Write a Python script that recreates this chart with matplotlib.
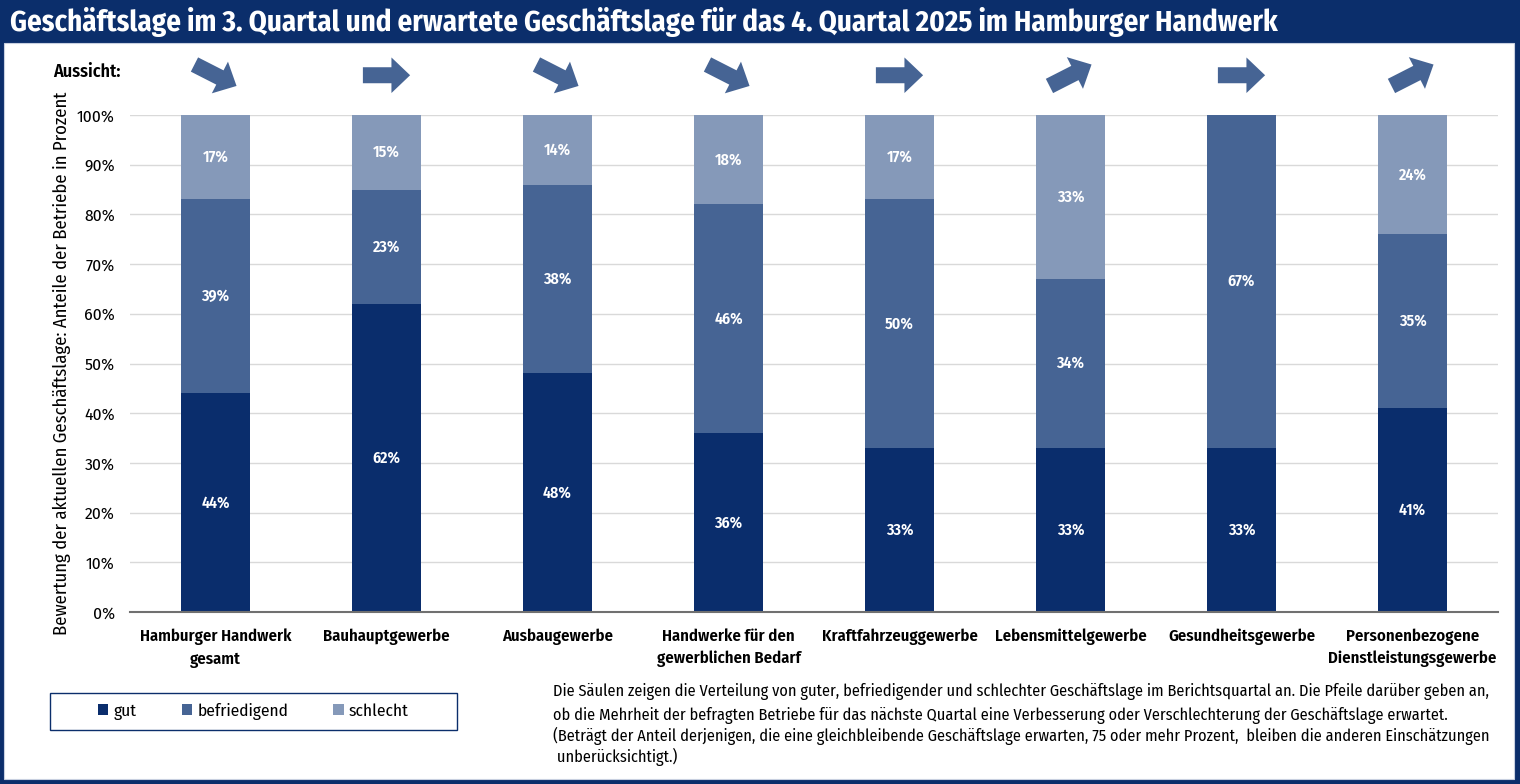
import matplotlib
matplotlib.use("Agg")
import matplotlib.pyplot as plt
import matplotlib.patches as mpatches
from matplotlib.transforms import offset_copy
from matplotlib import font_manager as fm
import numpy as np

installed = {f.name for f in fm.fontManager.ttflist}
prefs = ["Fira Sans Condensed", "Roboto Condensed", "PT Sans Narrow", "Encode Sans Condensed",
         "Asap Condensed", "Open Sans"]
fam = [p for p in prefs if p in installed][:1] + ["DejaVu Sans"]
plt.rcParams['font.family'] = fam

categories = ["Hamburger Handwerk\ngesamt", "Bauhauptgewerbe", "Ausbaugewerbe",
              "Handwerke für den\ngewerblichen Bedarf", "Kraftfahrzeuggewerbe",
              "Lebensmittelgewerbe", "Gesundheitsgewerbe",
              "Personenbezogene\nDienstleistungsgewerbe"]
gut = [44, 62, 48, 36, 33, 33, 33, 41]
befriedigend = [39, 23, 38, 46, 50, 34, 67, 35]
schlecht = [17, 15, 14, 18, 17, 33, 0, 24]
# Aussicht: -1 = Verschlechterung, 0 = gleichbleibend, 1 = Verbesserung
aussicht = [-1, 0, -1, -1, 0, 1, 0, 1]

title = "Geschäftslage im 3. Quartal und erwartete Geschäftslage für das 4. Quartal 2025 im Hamburger Handwerk"
ylabel = "Bewertung der aktuellen Geschäftslage: Anteile der Betriebe in Prozent"
note_lines = ["Die Säulen zeigen die Verteilung von guter, befriedigender und schlechter Geschäftslage im Berichtsquartal an. Die Pfeile darüber geben an,",
              "ob die Mehrheit der befragten Betriebe für das nächste Quartal eine Verbesserung oder Verschlechterung der Geschäftslage erwartet.",
              "(Beträgt der Anteil derjenigen, die eine gleichbleibende Geschäftslage erwarten, 75 oder mehr Prozent,  bleiben die anderen Einschätzungen",
              " unberücksichtigt.)"]

NAVY = "#0b2e6b"
C_GUT = "#0a2d6c"
C_BEF = "#466494"
C_SCH = "#8599b9"
C_ARROW = "#466494"

W, H = 1520, 784
fig = plt.figure(figsize=(W / 100, H / 100), dpi=100)
fig.patch.set_facecolor(NAVY)
renderer = fig.canvas.get_renderer()


def fit_width(t, target_px):
    w = t.get_window_extent(renderer).width
    t.set_fontsize(t.get_fontsize() * target_px / w)


# white panel
fig.patches.append(mpatches.Rectangle((4 / W, 1 - 779 / H), (1514 - 4) / W, (779 - 43) / H,
                                      transform=fig.transFigure, facecolor="white",
                                      edgecolor="#c8d0e0", linewidth=0.8, zorder=-10))
tt = fig.text(10 / W, 1 - 22 / H, title, color="white", fontsize=18, fontweight="bold",
              ha="left", va="center")
fit_width(tt, 1268)

ax = fig.add_axes([130 / W, 1 - 612 / H, (1498 - 130) / W, (612 - 115) / H])
ax.set_facecolor("none")
x = np.arange(len(categories))
bw = 0.4
b1 = ax.bar(x, gut, bw, color=C_GUT, label="gut", zorder=3)
b2 = ax.bar(x, befriedigend, bw, bottom=gut, color=C_BEF, label="befriedigend", zorder=3)
bottom2 = np.array(gut) + np.array(befriedigend)
b3 = ax.bar(x, schlecht, bw, bottom=bottom2, color=C_SCH, label="schlecht", zorder=3)

for i in range(len(categories)):
    segs = [(0, gut[i]), (gut[i], befriedigend[i]), (bottom2[i], schlecht[i])]
    for b, v in segs:
        if v > 0:
            ax.text(x[i], b + v / 2, f"{v}%", ha="center", va="center", color="white",
                    fontsize=11.5, fontweight="semibold", zorder=4)

ax.set_xlim(-0.5, len(categories) - 0.5)
ax.set_ylim(0, 100)
ax.set_yticks(np.arange(0, 101, 10))
ax.set_yticklabels([f"{v}%" for v in range(0, 101, 10)], fontsize=12.5)
ax.yaxis.grid(True, color="#d9d9d9", linewidth=1, zorder=0)
ax.set_axisbelow(True)
for s in ["top", "right", "left"]:
    ax.spines[s].set_visible(False)
ax.spines["bottom"].set_color("#707070")
ax.spines["bottom"].set_linewidth(1.5)
ax.spines["bottom"].set_zorder(5)
ax.tick_params(axis="both", length=0)
ax.tick_params(axis="y", pad=11)
ax.tick_params(axis="x", pad=12)
ax.set_xticks(x)
ax.set_xticklabels(categories, fontsize=12, fontweight="semibold", linespacing=1.45)
ax.set_ylabel(ylabel, fontsize=13.4)
ax.yaxis.set_label_coords(-0.043, 0.5)

# arrows
L = 34.0  # points
base = ax.get_xaxis_transform()
for i, t in enumerate(aussicht):
    ang = np.deg2rad(27 * t)
    dx, dy = L * np.cos(ang), L * np.sin(ang)
    tr = offset_copy(base, fig=fig, x=dx / 2, y=dy / 2, units="points")
    ax.annotate("", xy=(x[i], 1.08), xycoords=tr, xytext=(-dx, -dy), textcoords="offset points",
                arrowprops=dict(arrowstyle="simple,head_length=0.42,head_width=0.8,tail_width=0.36",
                                mutation_scale=32, facecolor=C_ARROW, edgecolor="none",
                                shrinkA=0, shrinkB=0), annotation_clip=False)

fig.text(53 / W, 1 - 72 / H, "Aussicht:", fontsize=13, fontweight="semibold", ha="left", va="center")

leg = fig.legend(handles=[b1, b2, b3], labels=["gut", "befriedigend", "schlecht"],
                 loc="center", bbox_to_anchor=(50 / W, 1 - 730 / H, (457 - 50) / W, 37 / H),
                 ncol=3, frameon=False, fontsize=12.5,
                 handlelength=0.6, handleheight=0.6, handletextpad=0.3, borderaxespad=0,
                 columnspacing=2.6)
fig.patches.append(mpatches.Rectangle((50 / W, 1 - 730 / H), (457 - 50) / W, 37 / H,
                                      transform=fig.transFigure, facecolor="none",
                                      edgecolor=NAVY, linewidth=1.0, zorder=5))

ys = [692, 715, 736, 757]
for k, line in enumerate(note_lines):
    t = fig.text(553 / W, 1 - ys[k] / H, line, fontsize=11.5, ha="left", va="center")
    if k == 0:
        fit_width(t, 932)
        fs = t.get_fontsize()
    else:
        t.set_fontsize(fs)

fig.savefig("out.png", dpi=100, facecolor=fig.get_facecolor())
